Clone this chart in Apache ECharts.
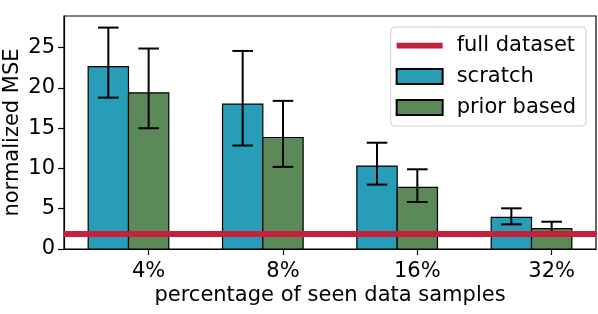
<!DOCTYPE html>
<html><head><meta charset="utf-8">
<script src="https://cdn.jsdelivr.net/npm/echarts@6/dist/echarts.min.js"></script>
<style>html,body{margin:0;padding:0;background:#fff}#c{width:598px;height:314px}</style>
</head><body><div id="c"></div>
<script>
const categories = ['4%', '8%', '16%', '32%'];
const scratchMean = [22.65, 18.0, 10.3, 3.93];
const scratchLow = [18.8, 12.85, 8.0, 3.06];
const scratchHigh = [27.5, 24.6, 13.2, 5.05];
const priorMean = [19.4, 13.85, 7.66, 2.52];
const priorLow = [15.0, 10.2, 5.84, 1.75];
const priorHigh = [24.9, 18.4, 9.9, 3.39];
const fullDataset = 1.95;
const yTicks = [0, 5, 10, 15, 20, 25];

const FONT = 'DejaVu Sans';
const FS = 21;
const SCRATCH_COLOR = '#279db8';
const PRIOR_COLOR = '#5b8a58';
const RED = '#c4213c';
const BAR_W = 0.3;

function barData(mean, low, high) {
  return categories.map((c, i) => [i, mean[i], low[i], high[i]]);
}
function barRender(offset, color) {
  return function (params, api) {
    const x = api.value(0) + offset;
    const v = api.value(1);
    const p0 = api.coord([x - BAR_W / 2, v]);
    const p1 = api.coord([x + BAR_W / 2, 0]);
    return {
      type: 'rect',
      shape: { x: p0[0], y: p0[1], width: p1[0] - p0[0], height: p1[1] - p0[1] },
      style: { fill: color, stroke: '#000', lineWidth: 1.2 }
    };
  };
}
function errRender(offset) {
  return function (params, api) {
    const x = api.value(0) + offset;
    const lo = api.coord([x, api.value(2)]);
    const hi = api.coord([x, api.value(3)]);
    const cap = 10.3;
    const st = { stroke: '#000', lineWidth: 2, fill: null };
    return {
      type: 'group',
      children: [
        { type: 'line', shape: { x1: lo[0], y1: lo[1], x2: hi[0], y2: hi[1] }, style: st },
        { type: 'line', shape: { x1: lo[0] - cap, y1: lo[1], x2: lo[0] + cap, y2: lo[1] }, style: st },
        { type: 'line', shape: { x1: hi[0] - cap, y1: hi[1], x2: hi[0] + cap, y2: hi[1] }, style: st }
      ]
    };
  };
}

const chart = echarts.init(document.getElementById('c'), null, { renderer: 'canvas' });
chart.setOption({
  animation: false,
  backgroundColor: '#fff',
  grid: {
    left: 64, top: 16, right: 2, bottom: 65, containLabel: false, outerBoundsMode: 'none',
    show: true, borderColor: '#000', borderWidth: 1.2, backgroundColor: 'transparent'
  },
  xAxis: {
    type: 'value', min: -0.63, max: 3.33,
    splitLine: { show: false },
    axisLine: { show: true, onZero: false, lineStyle: { color: '#000', width: 1.2 } },
    axisTick: { show: true, customValues: [0, 1, 2, 3], length: 6, lineStyle: { color: '#000', width: 1.2 } },
    axisLabel: { customValues: [0, 1, 2, 3], formatter: v => categories[Math.round(v)], fontFamily: FONT, fontSize: FS, color: '#000', margin: 12 },
    name: 'percentage of seen data samples', nameLocation: 'middle', nameGap: 36, nameMoveOverlap: false,
    nameTextStyle: { fontFamily: FONT, fontSize: FS, color: '#000' }
  },
  yAxis: {
    type: 'value', min: 0, max: 28.94,
    splitLine: { show: false },
    axisLine: { show: true, onZero: false, lineStyle: { color: '#000', width: 1.2 } },
    axisTick: { show: true, customValues: yTicks, length: 6, lineStyle: { color: '#000', width: 1.2 } },
    axisLabel: { customValues: yTicks, fontFamily: FONT, fontSize: FS, color: '#000', margin: 9 },
    name: 'normalized MSE', nameLocation: 'middle', nameGap: 41, nameMoveOverlap: false,
    nameTextStyle: { fontFamily: FONT, fontSize: FS, color: '#000' }
  },
  legend: {
    orient: 'vertical', right: 12, top: 27,
    padding: [8, 10, 8, 5], itemWidth: 46, itemHeight: 15, itemGap: 10,
    backgroundColor: '#fff', borderColor: '#d0d0d0', borderWidth: 1, borderRadius: 4,
    textStyle: { fontFamily: FONT, fontSize: FS, color: '#000', lineHeight: 15, padding: [0, 0, 0, 9] },
    data: [
      { name: 'full dataset', icon: 'path://M0,0H48V6H0Z' },
      { name: 'scratch', icon: 'rect' },
      { name: 'prior based', icon: 'rect' }
    ]
  },
  series: [
    {
      name: 'scratch', type: 'custom', renderItem: barRender(-0.3, SCRATCH_COLOR),
      itemStyle: { color: SCRATCH_COLOR, borderColor: '#000', borderWidth: 1.2 },
      encode: { x: 0, y: 1 }, data: barData(scratchMean, scratchLow, scratchHigh), z: 2
    },
    {
      name: 'prior based', type: 'custom', renderItem: barRender(0, PRIOR_COLOR),
      itemStyle: { color: PRIOR_COLOR, borderColor: '#000', borderWidth: 1.2 },
      encode: { x: 0, y: 1 }, data: barData(priorMean, priorLow, priorHigh), z: 2
    },
    {
      name: 'scratch-err', type: 'custom', renderItem: errRender(-0.3),
      encode: { x: 0, y: [2, 3] }, data: barData(scratchMean, scratchLow, scratchHigh), z: 3
    },
    {
      name: 'prior-err', type: 'custom', renderItem: errRender(0),
      encode: { x: 0, y: [2, 3] }, data: barData(priorMean, priorLow, priorHigh), z: 3
    },
    {
      name: 'full dataset', type: 'bar', data: [],
      itemStyle: { color: RED },
      markLine: {
        silent: true, symbol: 'none', label: { show: false },
        lineStyle: { color: RED, width: 6, type: 'solid' },
        data: [{ yAxis: fullDataset }]
      },
      z: 5
    }
  ]
});
</script></body></html>
